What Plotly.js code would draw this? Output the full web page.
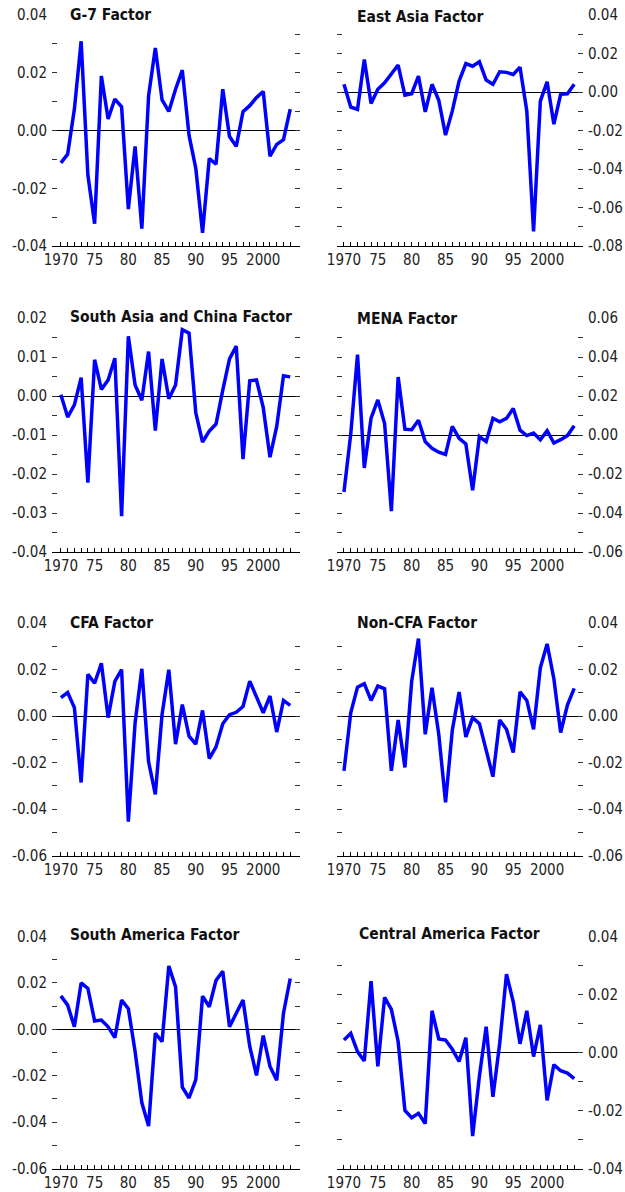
<!DOCTYPE html>
<html><head><meta charset="utf-8">
<script src="https://cdn.plot.ly/plotly-3.0.1.min.js"></script>
<style>html,body{margin:0;padding:0;background:#fff}</style>
</head><body><div id="chart" style="width:625px;height:1192px"></div>
<script>
const years = [1970,1971,1972,1973,1974,1975,1976,1977,1978,1979,1980,1981,1982,1983,1984,1985,1986,1987,1988,1989,1990,1991,1992,1993,1994,1995,1996,1997,1998,1999,2000,2001,2002,2003,2004];
const g7 = [-0.0112,-0.0082,0.0074,0.0309,-0.0154,-0.0323,0.0189,0.0040,0.0109,0.0082,-0.0272,-0.0055,-0.0340,0.0120,0.0286,0.0106,0.0066,0.0143,0.0209,-0.0017,-0.0131,-0.0354,-0.0097,-0.0117,0.0143,-0.0021,-0.0055,0.0065,0.0086,0.0114,0.0135,-0.0089,-0.0048,-0.0032,0.0074];
const eastAsia = [0.0040,-0.0078,-0.0090,0.0169,-0.0060,0.0014,0.0048,0.0097,0.0140,-0.0017,-0.0009,0.0083,-0.0103,0.0040,-0.0043,-0.0224,-0.0098,0.0057,0.0148,0.0134,0.0157,0.0062,0.0040,0.0105,0.0102,0.0091,0.0129,-0.0098,-0.0724,-0.0047,0.0053,-0.0167,-0.0012,-0.0009,0.0040];
const southAsiaChina = [0.0003,-0.0054,-0.0023,0.0047,-0.0222,0.0093,0.0017,0.0041,0.0097,-0.0308,0.0153,0.0028,-0.0011,0.0114,-0.0089,0.0095,-0.0007,0.0028,0.0170,0.0161,-0.0043,-0.0118,-0.0090,-0.0072,0.0015,0.0095,0.0128,-0.0162,0.0039,0.0041,-0.0030,-0.0157,-0.0078,0.0052,0.0049];
const mena = [-0.0292,0.0005,0.0412,-0.0169,0.0086,0.0180,0.0059,-0.0390,0.0297,0.0030,0.0027,0.0076,-0.0034,-0.0068,-0.0088,-0.0100,0.0044,-0.0017,-0.0046,-0.0283,-0.0008,-0.0034,0.0086,0.0068,0.0085,0.0136,0.0025,-0.0003,0.0010,-0.0025,0.0022,-0.0041,-0.0024,-0.0003,0.0047];
const cfa = [0.0079,0.0101,0.0036,-0.0286,0.0179,0.0141,0.0227,-0.0007,0.0149,0.0200,-0.0454,-0.0030,0.0203,-0.0197,-0.0337,0.0007,0.0199,-0.0121,0.0049,-0.0087,-0.0121,0.0024,-0.0183,-0.0133,-0.0033,0.0006,0.0016,0.0041,0.0150,0.0081,0.0014,0.0086,-0.0069,0.0067,0.0046];
const nonCfa = [-0.0236,0.0014,0.0124,0.0139,0.0067,0.0129,0.0117,-0.0236,-0.0017,-0.0221,0.0150,0.0333,-0.0079,0.0121,-0.0079,-0.0371,-0.0061,0.0103,-0.0090,-0.0007,-0.0033,-0.0143,-0.0261,-0.0017,-0.0057,-0.0157,0.0104,0.0067,-0.0057,0.0207,0.0310,0.0160,-0.0071,0.0047,0.0119];
const southAmerica = [0.0144,0.0104,0.0011,0.0200,0.0176,0.0036,0.0040,0.0011,-0.0036,0.0126,0.0089,-0.0096,-0.0317,-0.0417,-0.0017,-0.0053,0.0273,0.0183,-0.0250,-0.0296,-0.0217,0.0143,0.0097,0.0211,0.0250,0.0011,0.0069,0.0126,-0.0074,-0.0199,-0.0027,-0.0160,-0.0220,0.0069,0.0219];
const centralAmerica = [0.0043,0.0066,0.0003,-0.0029,0.0246,-0.0048,0.0190,0.0149,0.0038,-0.0200,-0.0225,-0.0210,-0.0245,0.0144,0.0047,0.0043,0.0011,-0.0031,0.0051,-0.0288,-0.0082,0.0089,-0.0153,0.0032,0.0270,0.0175,0.0030,0.0144,-0.0014,0.0095,-0.0165,-0.0042,-0.0063,-0.0071,-0.0090];
const titles = ['G-7 Factor','East Asia Factor','South Asia and China Factor','MENA Factor','CFA Factor','Non-CFA Factor','South America Factor','Central America Factor'];
const xTickVals = [1970,1975,1980,1985,1990,1995,2000];
const xTickText = ['1970','75','80','85','90','95','2000'];

const series = [g7, eastAsia, southAsiaChina, mena, cfa, nonCfa, southAmerica, centralAmerica];
// layout settings per panel: y range, tick step, label step, number of intervals on the unlabeled side
const panels = [
  {yr:[-0.04,0.04], tick:0.01, lab:0.02, other:12},
  {yr:[-0.08,0.04], tick:0.01, lab:0.02, other:12},
  {yr:[-0.04,0.02], tick:0.005, lab:0.01, other:12},
  {yr:[-0.06,0.06], tick:0.01, lab:0.02, other:12},
  {yr:[-0.06,0.04], tick:0.01, lab:0.02, other:10},
  {yr:[-0.06,0.04], tick:0.01, lab:0.02, other:10},
  {yr:[-0.06,0.04], tick:0.01, lab:0.02, other:10},
  {yr:[-0.04,0.04], tick:0.01, lab:0.02, other:8}
];
const W = 625, H = 1192;
const rowsPx = [[15,246],[318,552],[623,855.5],[936.5,1168.5]];
const colsPx = [[52,300],[337,583]];
const xRanges = [[1968.68,2005.45],[1968.97,2005.3]];
const titlePos = [[68,15],[355,17],[68,317],[355,319],[68,623],[355,623],[68,935],[357,934]];
const FONT = '"Liberation Sans Narrow", "Arial Narrow", "DejaVu Sans Condensed", sans-serif';

const allYearTicks = years.slice();
const xTickTextAll = years.map(y => { const i = xTickVals.indexOf(y); return i >= 0 ? xTickText[i] : ''; });

function fmt(v){ const s = Math.abs(v).toFixed(2); return (v < -1e-9 ? '-' : '') + s; }

const data = [];
const layout = {
  width: W, height: H, margin:{l:0,r:0,t:0,b:0},
  paper_bgcolor:'#fff', plot_bgcolor:'#fff', showlegend:false,
  font:{family:FONT, size:15, color:'#222'},
  annotations:[]
};

series.forEach((vals, i) => {
  const p = panels[i];
  const row = Math.floor(i/2), col = i % 2;
  const n = i + 1;
  const xs = n === 1 ? '' : String(n);
  data.push({x: years, y: vals, type:'scatter', mode:'lines',
    line:{color:'#0000ff', width:3.5}, xaxis:'x'+xs, yaxis:'y'+xs, hoverinfo:'skip'});
  const cx = colsPx[col], ry = rowsPx[row];
  layout['xaxis'+xs] = {
    domain:[cx[0]/W, cx[1]/W], range:xRanges[col], anchor:'y'+xs,
    showgrid:false, zeroline:false, showline:true, linecolor:'#000', linewidth:1,
    ticks:'inside', ticklen:4, tickwidth:1, tickcolor:'#000',
    tickmode:'array', tickvals:allYearTicks, ticktext:xTickTextAll,
    tickfont:{family:FONT, size:15, color:'#222'}, ticklabelstandoff:0
  };
  // labeled y ticks
  const tv = [], tt = [];
  const nT = Math.round((p.yr[1]-p.yr[0])/p.tick);
  for (let k=0;k<=nT;k++){
    const v = +(p.yr[0] + k*p.tick).toFixed(4);
    tv.push(v);
    const r = v/p.lab;
    tt.push(Math.abs(r - Math.round(r)) < 1e-6 ? fmt(v) : '');
  }
  layout['yaxis'+xs] = {
    domain:[1-ry[1]/H, 1-ry[0]/H], range:p.yr, anchor:'x'+xs,
    side: col === 0 ? 'left' : 'right',
    showgrid:false, showline:false, zeroline:true, zerolinecolor:'#000', zerolinewidth:1,
    ticks:'inside', ticklen:5, tickwidth:1, tickcolor:'#333',
    tickmode:'array', tickvals:tv, ticktext:tt, ticklabelstandoff:4,
    tickfont:{family:FONT, size:15, color:'#222'}
  };
  // unlabeled other side
  const ov = [];
  for (let k=0;k<=p.other;k++) ov.push(p.yr[0] + k*(p.yr[1]-p.yr[0])/p.other);
  const on = 'yaxis' + (n+8);
  layout[on] = {
    overlaying:'y'+xs, anchor:'x'+xs, range:p.yr,
    side: col === 0 ? 'right' : 'left',
    showgrid:false, showline:false, zeroline:false, showticklabels:false,
    ticks:'inside', ticklen:5, tickwidth:1, tickcolor:'#333',
    tickmode:'array', tickvals:ov
  };
  data.push({x:[years[0]], y:[null], type:'scatter', mode:'lines', xaxis:'x'+xs, yaxis:'y'+(n+8), hoverinfo:'skip', showlegend:false});
  const tp = titlePos[i];
  layout.annotations.push({
    text:'<b>'+titles[i]+'</b>', xref:'paper', yref:'paper',
    x: tp[0]/W, y: 1 - tp[1]/H, xanchor:'left', yanchor:'middle', showarrow:false,
    font:{family:FONT, size:15.5, color:'#111'}
  });
});

Plotly.newPlot('chart', data, layout, {staticPlot:true, displayModeBar:false});
</script></body></html>
